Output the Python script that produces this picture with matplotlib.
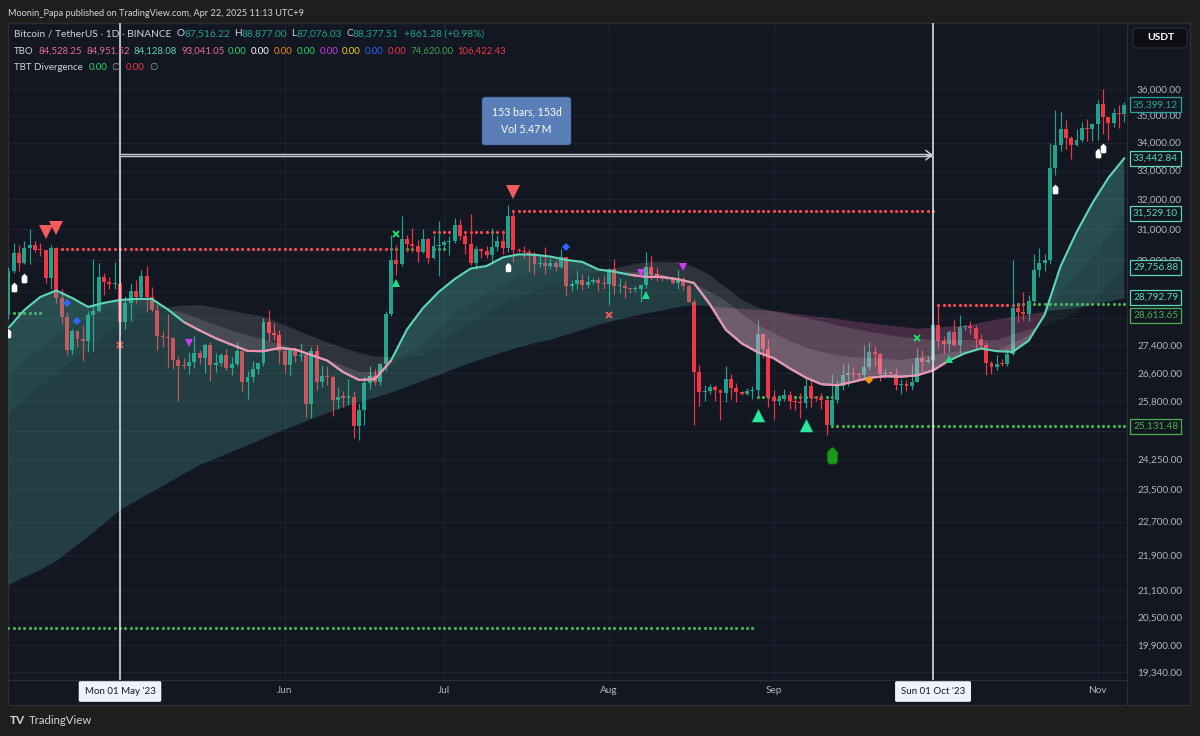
import numpy as np
import matplotlib
matplotlib.use("Agg")
import matplotlib.pyplot as plt
import matplotlib.transforms as mtransforms
from matplotlib.patches import Rectangle, FancyBboxPatch
from matplotlib.ticker import NullLocator, NullFormatter

plt.rcParams['font.family'] = ['Lato', 'DejaVu Sans']

W, H, DPI = 1200, 736, 100

# --- BTCUSDT daily bars, day 0 = 10 Apr 2023, last = 06 Nov 2023 ---
FIRST_OPEN = 28323
CLOSE = [
    # Apr 10-30
    29653, 30235, 29892, 30399, 30485, 30318, 30315, 29445, 30397, 28822, 28245, 27262, 27817, 27591, 27514,
    28300, 28415, 29472, 29311, 29230, 29233,
    # May
    28068, 28669, 29026, 28838, 29506, 28849, 28430, 27668, 27628, 27598, 26968, 26805, 26785, 26918, 27162,
    27033, 27405, 26821, 26880, 27102, 26747, 26849, 27225, 26334, 26476, 26719, 26868, 28085, 27745, 27702, 27219,
    # Jun
    26819, 27249, 27069, 27115, 25728, 27230, 26339, 26498, 26477, 25841, 25925, 25902, 25918, 25124, 25575,
    26327, 26510, 26336, 26841, 28307, 29993, 29885, 30688, 30528, 30462, 30267, 30692, 30078, 30446, 30472,
    # Jul
    30586, 30617, 31156, 30767, 30505, 29895, 30346, 30292, 30172, 30414, 30620, 30381, 31454, 30315, 30295,
    30249, 30145, 29857, 29910, 29801, 29906, 29791, 30084, 29177, 29228, 29354, 29212, 29315, 29357, 29278, 29231,
    # Aug
    29706, 29186, 29193, 29113, 29073, 29087, 29203, 29766, 29562, 29436, 29403, 29416, 29283, 29409, 29170,
    28701, 26622, 26049, 26096, 26189, 26125, 26041, 26432, 26163, 26050, 26008, 26089, 26106, 27728, 27297, 25931,
    # Sep
    25800, 25869, 25969, 25813, 25780, 25753, 26240, 25905, 25895, 25832, 25162, 25840, 26223, 26529, 26608,
    26568, 26527, 26762, 27211, 27132, 26567, 26580, 26579, 26256, 26298, 26218, 26353, 27022, 26911, 26968,
    # Oct
    27983, 27530, 27430, 27791, 27410, 27931, 27956, 27917, 27591, 27392, 26875, 26756, 26863, 26852, 27154,
    28500, 28396, 28320, 28713, 29669, 29910, 29993, 33086, 33901, 34502, 34156, 33909, 34089, 34538, 34502, 34667,
    # Nov 1-6
    35437, 34938, 34732, 35082, 35049, 35399,
]
HIGH = [
    29770, 30550, 30485, 30620, 31000, 30610, 30550, 30320, 30485, 30411, 29090, 28374, 27876, 27820, 28000,
    28400, 30020, 29890, 29600, 29459, 29952,
    29337, 28879, 29266, 29379, 29677, 29820, 29138, 28631, 27818, 28331, 27630, 27073, 27030, 27200, 27662,
    27267, 27465, 27485, 27183, 27155, 27275, 27052, 27495, 27227, 26645, 26932, 26887, 28199, 28447, 28044, 27835,
    27350, 27300, 27324, 27455, 27129, 27355, 27391, 26810, 26783, 26530, 26208, 26100, 26433, 26077, 25750,
    26478, 26798, 26698, 26888, 28402, 30800, 30500, 31432, 30800, 31046, 30663, 31006, 30703, 30820, 31282,
    30660, 30792, 31380, 31326, 30877, 31500, 30449, 30384, 30445, 31045, 30808, 30990, 31804, 31630, 30390,
    30455, 30340, 30245, 30190, 30417, 30058, 29999, 30350, 30099, 29357, 29690, 29570, 29528, 29415, 29449, 29529,
    29743, 30047, 29433, 29333, 29131, 29175, 29250, 30244, 30136, 29730, 29540, 29474, 29450, 29690, 29450,
    29240, 28786, 26835, 26271, 26292, 26258, 26139, 26808, 26571, 26316, 26099, 26179, 26233, 28142, 27760, 27579,
    26125, 25977, 26135, 26100, 25884, 26032, 26444, 26428, 25946, 26033, 25877, 26567, 26398, 26860, 26888,
    26777, 26627, 27409, 27488, 27378, 27159, 26743, 26632, 26738, 26432, 26397, 26838, 27308, 27244, 27094,
    28065, 28580, 27665, 27830, 28129, 28295, 28000, 28115, 27987, 27739, 27480, 26947, 27100, 26989, 27290,
    30000, 28612, 28982, 28916, 30208, 30379, 30208, 34000, 35198, 35133, 34832, 34238, 34490, 34770, 34856, 34720,
    35583, 35984, 34946, 35281, 35380, 35500,
]
LOW = [
    28170, 29600, 29665, 29860, 29886, 30250, 30140, 29270, 29100, 28670, 28010, 27125, 27140, 27331, 26942,
    27200, 27235, 28380, 28891, 29088, 29079,
    27666, 27873, 28113, 28667, 28801, 28385, 28395, 27262, 27353, 26777, 26702, 25811, 26700, 26563, 26727,
    26852, 26601, 26361, 26631, 26805, 26683, 26528, 26789, 26080, 25871, 26338, 26554, 26799, 27524, 27554, 26839,
    26605, 26508, 26915, 26951, 25388, 25351, 26125, 26210, 26269, 25400, 25600, 25641, 25712, 24820, 24756,
    25160, 26158, 26271, 26254, 26653, 28257, 29525, 29810, 30250, 30270, 29930, 30236, 29900, 30046, 29500,
    30320, 30165, 30553, 30633, 30200, 29850, 29701, 30056, 30065, 29950, 30300, 30205, 30254, 29940, 30250,
    30076, 29660, 29512, 29768, 29569, 29720, 29640, 29741, 28861, 29040, 29089, 29059, 29124, 29256, 29033, 29101,
    28586, 28920, 28960, 28804, 28953, 28983, 28701, 29130, 29367, 29350, 29328, 29358, 29250, 29090, 29053,
    28700, 25166, 25668, 25801, 26007, 25813, 25300, 25798, 25863, 25777, 25971, 25985, 25862, 25922, 27015, 25655,
    25333, 25717, 25800, 25600, 25570, 25348, 25614, 25645, 25803, 25584, 24901, 25131, 25764, 26126, 26224,
    26445, 26399, 26385, 26674, 26800, 26361, 26465, 26501, 26122, 26011, 26088, 26112, 26342, 26665, 26886,
    26954, 27281, 27160, 27215, 27375, 27175, 27842, 27711, 27260, 27298, 26538, 26555, 26692, 26800, 26787,
    27112, 28069, 28143, 28100, 28666, 29464, 29665, 29883, 32835, 33690, 33762, 33401, 33860, 34017, 34056, 34067,
    34102, 34300, 34097, 34583, 34528, 34750,
]
OPEN = [FIRST_OPEN] + CLOSE[:-1]  # 24/7 market: each bar opens at the prior close

# --- TBO ribbon, read every 3rd bar ---
LINE_DAYS = list(range(0, 211, 3))
TBO_FAST = [
    27903, 28444, 28841, 29040, 28810, 28535, 28660, 28750, 28780, 28780,
    28460, 28081, 27830, 27600, 27410, 27230, 27220, 27313, 27270, 27111,
    26950, 26620, 26398, 26420, 26950, 27860, 28500, 29000, 29400, 29730,
    29809, 30080, 30180, 30170, 30110, 30003, 29939, 29700, 29630, 29530,
    29464, 29464, 29390, 29275, 28620, 27850, 27450, 27190, 27020, 26730,
    26470, 26280, 26250, 26350, 26456, 26505, 26490, 26530, 26670, 26950,
    27160, 27300, 27220, 27200, 27530, 28300, 29800, 30900, 31880, 32750, 33442]
TBO_MID1 = [
    26538, 26950, 27330, 27700, 27950, 28200, 28400, 28480, 28540, 28560,
    28460, 28350, 28170, 28000, 27830, 27690, 27570, 27420, 27280, 27120,
    26980, 26800, 26630, 26623, 26780, 27120, 27470, 27900, 28350, 28660,
    28960, 29240, 29440, 29620, 29757, 29710, 29660, 29618, 29618, 29618,
    29618, 29540, 29400, 29260, 29000, 28720, 28330, 27990, 27750, 27520,
    27330, 27200, 27100, 27050, 27020, 27000, 26966, 27040, 27110, 27190,
    27220, 27240, 27250, 27450, 27680, 28200, 29050, 29600, 30100, 30800, 31529]
TBO_MID2 = [
    25485, 25850, 26220, 26600, 26950, 27330, 27700, 27980, 28260, 28460,
    28530, 28580, 28595, 28510, 28420, 28330, 28250, 28050, 27860, 27660,
    27480, 27320, 27170, 27070, 27053, 27053, 27100, 27450, 27760, 28050,
    28350, 28620, 28830, 29030, 29220, 29370, 29500, 29618, 29730, 29840,
    29930, 29937, 29937, 29780, 29520, 29130, 28760, 28520, 28400, 28300,
    28200, 28100, 27980, 27880, 27790, 27710, 27640, 27590, 27550, 27548,
    27548, 27548, 27548, 27700, 27850, 27960, 28160, 28380, 28700, 29200, 29757]
TBO_SLOW = [
    21216, 21390, 21560, 21760, 22050, 22340, 22650, 22983, 23200, 23430,
    23650, 23880, 24112, 24280, 24450, 24620, 24800, 24990, 25150, 25320,
    25480, 25640, 25790, 25900, 26040, 26210, 26370, 26540, 26720, 26890,
    27040, 27190, 27330, 27460, 27548, 27700, 27850, 27993, 28120, 28230,
    28340, 28430, 28530, 28595, 28560, 28530, 28490, 28460, 28430, 28360,
    28300, 28240, 28180, 28120, 28060, 28000, 27950, 27900, 27930, 27960,
    27990, 28080, 28170, 28250, 28330, 28400, 28450, 28500, 28590, 28700, 28793]
FAST_BEAR_SPANS = [(33, 72), (117, 177)]

# --- dotted pivot levels: (price, first bar, last bar, colour) ---
LEVELS = [
    (30350, 9, 72, '#f4494f'), (30350, 73, 82, '#4caf50'),
    (30910, 80, 94, '#f4494f'), (31620, 95, 174, '#f4494f'),
    (28580, 175, 190, '#f4494f'), (28614, 190, 210, '#4caf50'),
    (28353, 0, 6, '#4caf50'), (20264, 0, 140, '#4caf50'),
    (25923, 141, 155, '#4caf50'), (25131.48, 155, 210, '#4caf50'),
]

# --- signal markers (bar, price) ---
WHITE_DAYS = [0, 1, 3, 94, 197, 205, 206]
WHITE_PRICES = [27754, 29149, 29430, 29790, 32360, 33627, 33804]
LABEL_UP_DAYS = [155]
LABEL_UP_PRICES = [24368]
RED_TRI_DAYS = [7, 9, 95]
RED_TRI_PRICES = [30910, 31040, 32255]
BIG_UP_DAYS = [141, 150]
BIG_UP_PRICES = [25430, 25161]
SMALL_UP_DAYS = [73, 120, 177]
SMALL_UP_PRICES = [29273, 28901, 26995]
MAGENTA_DAYS = [34, 119, 127]
MAGENTA_PRICES = [27461, 29587, 29788]
BLUE_DAYS = [11, 13, 105]
BLUE_PRICES = [28656, 28112, 30420]
ORANGE_DAYS = [162]
ORANGE_PRICES = [26397]
RED_X_DAYS = [21, 113]
RED_X_PRICES = [27401, 28292]
GREEN_X_DAYS = [73, 171]
GREEN_X_PRICES = [30844, 27607]

# --- axes text ---
MONTH_DAYS = [21, 52, 82, 113, 144, 174, 205]
MONTH_LABELS = ['', 'Jun', 'Jul', 'Aug', 'Sep', '', 'Nov']
RANGE_DAYS = [21, 174]
RANGE_LABELS = ["Mon 01 May '23", "Sun 01 Oct '23"]
PRICE_TICKS = [36000, 35000, 34000, 33000, 32000, 31000, 30000, 29000, 28200, 27400, 26600,
               25800, 25000, 24250, 23500, 22700, 21900, 21100, 20500, 19900, 19340]
HIDDEN_TICKS = [29000, 28200, 25000]  # covered by value tags on the price scale
VALUE_TAGS = [(35399.12, '#26a69a', 0), (33442.84, '#5ed6b8', 0), (31529.10, '#5ed6b8', 0),
              (29756.88, '#5ed6b8', 0), (28792.79, '#5ed6b8', 1), (28613.65, '#4caf50', -11),
              (25131.48, '#4caf50', 0)]
RANGE_ARROW_PRICE = 33550
RANGE_BOX_PRICE = 34790

BG = '#131722'
TXT = '#d1d4dc'
AXT = '#b2b5be'
UP = '#1fa38c'
DOWN = '#f23645'
TEAL_LINE = '#5ed6b8'
PINK_LINE = '#f48fb1'

fig = plt.figure(figsize=(W / DPI, H / DPI), dpi=DPI, facecolor='#1e1e1e')


def fx(px):
    return px / W


def fy(py):
    return 1 - py / H


fig.add_artist(Rectangle((fx(8), fy(705)), fx(1190) - fx(8), fy(23) - fy(705),
                         transform=fig.transFigure, fc=BG, ec='#2a2e39', lw=1, zorder=0))

ax = fig.add_axes([fx(8), fy(680), (1127 - 8) / W, (680 - 23) / H])
ax.set_facecolor('none')
ax.set_yscale('log')
ax.set_xlim(-0.075, 210.5)
ax.set_ylim(19172, 38624)
for s in ax.spines.values():
    s.set_visible(False)

# grid / ticks
ax.yaxis.tick_right()
ax.set_yticks(PRICE_TICKS)
ax.set_yticklabels(['' if v in HIDDEN_TICKS else f'{v:,.2f}' for v in PRICE_TICKS])
ax.yaxis.set_minor_locator(NullLocator())
ax.yaxis.set_minor_formatter(NullFormatter())
ax.set_xticks(MONTH_DAYS)
ax.set_xticklabels(MONTH_LABELS)
ax.tick_params(axis='y', length=0, pad=7.2, labelsize=7.2, labelcolor=AXT)
ax.tick_params(axis='x', length=0, pad=4.5, labelsize=7.2, labelcolor=AXT)
ax.grid(True, color='#1f2330', lw=0.8, zorder=0)
ax.set_axisbelow(True)

days = np.arange(len(CLOSE))
o, h, l, c = (np.array(v, dtype=float) for v in (OPEN, HIGH, LOW, CLOSE))

# pivot levels (dots per bar, drawn behind candles)
for price, d0, d1, col in LEVELS:
    xs = np.arange(d0, d1 + 1)
    ax.plot(xs, np.full(len(xs), price), 'o', ms=2.3, color=col, mew=0, zorder=1)

# candles
col = np.where(c >= o, UP, DOWN)
ax.vlines(days, l, h, colors=col, lw=0.85, zorder=2)
lo = np.minimum(o, c)
hi = np.maximum(np.maximum(o, c), lo * np.exp(1.3 / 938))
ax.bar(days, hi - lo, bottom=lo, width=0.74, color=col, lw=0, zorder=2)

# ribbon fills (on top of candles, as on the reference)
x = np.array(LINE_DAYS)
F = np.array(TBO_FAST, dtype=float)
for M, bull, bear, a_bull, a_bear in [(np.array(TBO_SLOW, float), '#4fb3a6', '#c86496', 0.25, 0.28),
                                      (np.array(TBO_MID2, float), '#4fb3a6', '#ffffff', 0.07, 0.12),
                                      (np.array(TBO_MID1, float), '#4fb3a6', '#ffffff', 0.07, 0.12)]:
    ax.fill_between(x, F, M, where=F >= M, interpolate=True, color=bull, alpha=a_bull, lw=0, zorder=3)
    ax.fill_between(x, F, M, where=F < M, interpolate=True, color=bear, alpha=a_bear, lw=0, zorder=3)

ax.plot(x, F, color=TEAL_LINE, lw=1.5, zorder=4, solid_capstyle='round')
for d0, d1 in FAST_BEAR_SPANS:
    m = (x >= d0) & (x <= d1)
    ax.plot(x[m], F[m], color=PINK_LINE, lw=1.5, zorder=4, solid_capstyle='round')

# markers
drop = [(0, 1), (0.62, 0.4), (0.62, -0.7), (0.4, -1), (-0.4, -1), (-0.62, -0.7), (-0.62, 0.4), (0, 1)]
ax.plot(WHITE_DAYS, WHITE_PRICES, ls='none', marker=drop, ms=7.5, color='white', mec='#222222', mew=0.4, zorder=6)
ax.plot(LABEL_UP_DAYS, LABEL_UP_PRICES, ls='none', marker=drop, ms=12.5, color='#1a9a1a', mec='#0d4f0d', mew=0.6, zorder=6)
ax.plot(RED_TRI_DAYS, RED_TRI_PRICES, ls='none', marker='v', ms=9.5, color='#f45b5b', mew=0, zorder=6)
ax.plot(BIG_UP_DAYS, BIG_UP_PRICES, ls='none', marker='^', ms=10.5, color='#27e89c', mec='#0c3a2c', mew=0.5, zorder=6)
ax.plot(SMALL_UP_DAYS, SMALL_UP_PRICES, ls='none', marker='^', ms=5.5, color='#22dd88', mew=0, zorder=6)
ax.plot(MAGENTA_DAYS, MAGENTA_PRICES, ls='none', marker='v', ms=5.5, color='#d23cf2', mew=0, zorder=6)
ax.plot(BLUE_DAYS, BLUE_PRICES, ls='none', marker='D', ms=4.2, color='#2f66ff', mew=0, zorder=6)
ax.plot(ORANGE_DAYS, ORANGE_PRICES, ls='none', marker='D', ms=4.2, color='#ff9800', mew=0, zorder=6)
ax.plot(RED_X_DAYS, RED_X_PRICES, ls='none', marker='x', ms=5, color='#f05a5a', mew=1.4, zorder=6)
ax.plot(GREEN_X_DAYS, GREEN_X_PRICES, ls='none', marker='x', ms=5, color='#22dd66', mew=1.4, zorder=6)

# date range tool
for d in RANGE_DAYS:
    ax.axvline(d, color='#e8eaf0', lw=1.1, zorder=7)
ax.plot(RANGE_DAYS, [RANGE_ARROW_PRICE] * 2, color='#c8cbd3', lw=2.5, zorder=7, solid_capstyle='butt')
ax.plot(RANGE_DAYS, [RANGE_ARROW_PRICE] * 2, color='#5d616c', lw=0.8, zorder=7, solid_capstyle='butt')
ax.annotate('', xy=(RANGE_DAYS[1], RANGE_ARROW_PRICE), xytext=(RANGE_DAYS[1] - 1.2, RANGE_ARROW_PRICE),
            arrowprops=dict(arrowstyle='->,head_length=0.45,head_width=0.35', color='#d1d4dc', lw=1.0,
                            shrinkA=0, shrinkB=0), zorder=7)
ax.text(sum(RANGE_DAYS) / 2, RANGE_BOX_PRICE, '153 bars, 153d\nVol 5.47\u2009M', ha='center', va='center',
        color='white', fontsize=7.6, linespacing=1.75, zorder=8,
        bbox=dict(boxstyle='round,pad=0.95,rounding_size=0.35', fc='#5a7eb8', ec='#1c2436', lw=0.8))

# time axis date boxes
xtr = ax.get_xaxis_transform()
for d, lab in zip(RANGE_DAYS, RANGE_LABELS):
    ax.text(d, -0.0175, lab, transform=xtr, ha='center', va='center', fontsize=7.0, color='#131722',
            clip_on=False, zorder=9,
            bbox=dict(boxstyle='round,pad=0.6,rounding_size=0.15', fc='#f0f3fa', ec='none'))

# price axis value tags
ytr = ax.get_yaxis_transform()
x_tag = 1 + (1133 - 1127) / (1127 - 8)
for val, tc, shift in VALUE_TAGS:
    tr = mtransforms.offset_copy(ytr, fig=fig, x=0, y=shift, units='dots')
    ax.text(x_tag, val, f'{val:,.2f}', transform=tr, ha='left', va='center', fontsize=7.2, color=tc,
            clip_on=False, zorder=10,
            bbox=dict(boxstyle='square,pad=0.3', fc=BG, ec=tc, lw=0.9))

# pane separators
fig.add_artist(plt.Line2D([fx(1127), fx(1127)], [fy(23), fy(705)], color='#2a2e39', lw=0.8))
fig.add_artist(plt.Line2D([fx(8), fx(1127)], [fy(680), fy(680)], color='#2a2e39', lw=0.8))

# USDT currency button
fig.add_artist(FancyBboxPatch((fx(1133), fy(48)), fx(1187) - fx(1133), fy(28) - fy(48),
                              boxstyle='round,pad=0,rounding_size=0.004', transform=fig.transFigure,
                              fc='#0c0e14', ec='#2a2e39', lw=0.8))
fig.text(fx(1147), fy(38), 'USDT', ha='left', va='center', color='white', fontsize=7.4, weight='bold')

# header texts
renderer = fig.canvas.get_renderer()


def text_row(pieces, px, py, size=7.2):
    xx = px
    for s, tc, gap in pieces:
        t = fig.text(fx(xx), fy(py), s, color=tc, fontsize=size, va='center', ha='left')
        xx += t.get_window_extent(renderer).width + gap


fig.text(fx(8), fy(13), 'Moonin_Papa published on TradingView.com, Apr 22, 2025 11:13 UTC+9',
         color=TXT, fontsize=6.6, va='center', ha='left')

text_row([('Bitcoin / TetherUS \u00b7 1D \u00b7 BINANCE', TXT, 5), ('O', TXT, 0), ('87,516.22', UP, 4),
          ('H', TXT, 0), ('88,877.00', UP, 4), ('L', TXT, 0), ('87,076.03', UP, 4),
          ('C', TXT, 0), ('88,377.51', UP, 5), ('+861.28 (+0.98%)', UP, 0)], 14, 34, 7.3)

TBO_LEGEND = [('84,528.25', '#ea6a98'), ('84,951.52', '#ea6a98'), ('84,128.08', '#5fd3b3'),
              ('93,041.05', '#ea6a98'), ('0.00', '#22d46a'), ('0.00', '#ffffff'), ('0.00', '#f5860f'),
              ('0.00', '#22d46a'), ('0.00', '#d03cf0'), ('0.00', '#f2d50c'), ('0.00', '#2962ff'),
              ('0.00', '#f23645'), ('74,620.00', '#3fa34d'), ('106,422.43', '#f23645')]
text_row([('TBO', TXT, 5)] + [(s, tc, 4) for s, tc in TBO_LEGEND], 14, 51, 6.9)
text_row([('TBT Divergence', TXT, 6), ('0.00', '#22d46a', 4), ('\u2205', '#9598a1', 6),
          ('0.00', '#f23645', 4), ('\u2205', '#9598a1', 0)], 14, 67, 7.0)

# footer logo
fig.text(fx(10), fy(720), 'TV', color=TXT, fontsize=8.5, weight='bold', va='center', ha='left')
fig.text(fx(29), fy(720), 'TradingView', color=TXT, fontsize=8.2, va='center', ha='left')

fig.savefig('out.png', dpi=DPI, facecolor=fig.get_facecolor())
